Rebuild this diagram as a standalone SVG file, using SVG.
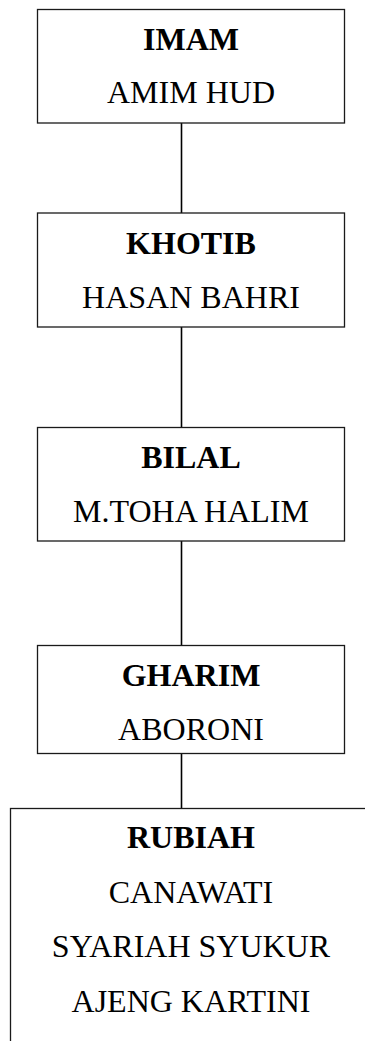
<svg xmlns="http://www.w3.org/2000/svg" width="365" height="1041" viewBox="0 0 365 1041">
  <style>
    .box { fill: #ffffff; stroke: #1a1a1a; stroke-width: 1.3; }
    .link { stroke: #000000; stroke-width: 1.6; fill: none; }
    text { font-family: "Liberation Serif", "Times New Roman", serif; font-size: 32px; fill: #000000; text-anchor: middle; }
    .title { font-weight: bold; }
  </style>
  <rect width="365" height="1041" fill="#ffffff"/>
  <g id="connectors">
    <line class="link" x1="181.5" y1="123" x2="181.5" y2="213"/>
    <line class="link" x1="181.5" y1="327" x2="181.5" y2="427.5"/>
    <line class="link" x1="181.5" y1="541" x2="181.5" y2="645.5"/>
    <line class="link" x1="181.5" y1="753.5" x2="181.5" y2="808.5"/>
  </g>
  <g id="imam">
    <rect class="box" x="37.5" y="9.5" width="307" height="113.5"/>
    <text class="title" x="191" y="50">IMAM</text>
    <text x="191" y="103">AMIM HUD</text>
  </g>
  <g id="khotib">
    <rect class="box" x="37.5" y="213" width="307" height="114"/>
    <text class="title" x="191" y="253.5">KHOTIB</text>
    <text x="191" y="307.5">HASAN BAHRI</text>
  </g>
  <g id="bilal">
    <rect class="box" x="37.5" y="427.5" width="307" height="113.5"/>
    <text class="title" x="191" y="467.7">BILAL</text>
    <text x="191" y="521.7">M.TOHA HALIM</text>
  </g>
  <g id="gharim">
    <rect class="box" x="37.5" y="645.5" width="307" height="108"/>
    <text class="title" x="191" y="686">GHARIM</text>
    <text x="191" y="740">ABORONI</text>
  </g>
  <g id="rubiah">
    <rect class="box" x="10.5" y="808.5" width="380" height="260"/>
    <text class="title" x="191" y="848.3">RUBIAH</text>
    <text x="191" y="903.3">CANAWATI</text>
    <text x="191" y="956.7">SYARIAH SYUKUR</text>
    <text x="191" y="1011.7">AJENG KARTINI</text>
  </g>
</svg>
